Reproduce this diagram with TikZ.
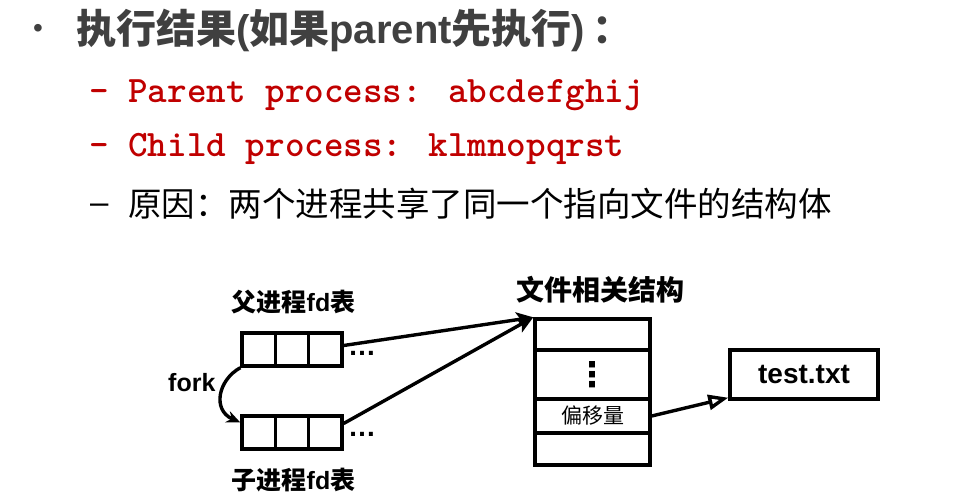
\documentclass[tikz,border=0pt]{standalone}
\usepackage{fontspec}
\setmainfont{Liberation Sans}
\newfontfamily\cjk{Noto Sans CJK SC}
\newfontfamily\djv{DejaVu Sans}
\usetikzlibrary{arrows.meta,calc}
\definecolor{titlegray}{HTML}{404040}
\definecolor{codered}{HTML}{C00000}
\newcommand\fs[1]{\fontsize{#1}{#1}\selectfont}
\begin{document}
\begin{tikzpicture}[x=1pt,y=-1pt,
  cell/.style={draw, line width=3.4pt, minimum width=33.3pt, minimum height=33pt, inner sep=0pt},
  row/.style={draw, line width=3.4pt, minimum width=115pt, inner sep=0pt},
  lbl/.style={inner sep=0pt, font=\fs{25}\bfseries},
  conn/.style={line width=3.4pt, -{Stealth[length=17pt,width=15pt,inset=4pt]}},
]
\useasboundingbox[fill=white] (0,0) rectangle (975,502);
% text block
\node[text=titlegray, font=\fs{28}] (bul) at (38,31) {•};
\node[anchor=west, inner sep=0pt, text=titlegray, font=\fs{40}\bfseries] (title) at (76,30)
  {{\cjk 执行结果}({\cjk 如果}parent{\cjk 先执行})\hspace{7pt}{\cjk ：}};
\node[anchor=west, inner sep=0pt, text=codered, font=\fs{37.3}\ttfamily\bfseries] (l2) at (89,95)
  {— Parent process: abcdefghij};
\node[anchor=west, inner sep=0pt, text=codered, font=\fs{37.3}\ttfamily\bfseries] (l3) at (89,149)
  {— Child process: klmnopqrst};
\node[anchor=base west, inner sep=0pt, font=\fs{33}] (d4) at (90,214) {–};
\node[anchor=west, inner sep=0pt, font=\fs{33.5}\cjk] (l4) at (128,204)
  {原因：两个进程共享了同一个指向文件的结构体};
% fd tables
\node[cell] (p1) at (258.7,349.5) {};
\node[cell] (p2) at (292,349.5) {};
\node[cell] (p3) at (325.3,349.5) {};
\node[cell] (c1) at (258.7,432.5) {};
\node[cell] (c2) at (292,432.5) {};
\node[cell] (c3) at (325.3,432.5) {};
\node[lbl] (pl) at (293.5,302) {{\cjk 父进程}fd{\cjk 表}};
\node[lbl] (cl) at (293.5,480) {{\cjk 子进程}fd{\cjk 表}};
\node[lbl, anchor=west] (fork) at (168,383) {fork};
\node[anchor=west, inner sep=0pt, font=\fs{28}\bfseries] (pd) at (348,353) {…};
\node[anchor=west, inner sep=0pt, font=\fs{28}\bfseries] (cd) at (348,434) {…};
% file structure
\node[row, minimum height=31pt] (r1) at (592.5,334.5) {};
\node[row, minimum height=49pt, font=\djv\bfseries\fs{34}] (r2) at (592.5,374.5) {⋮};
\node[row, minimum height=34pt, font=\cjk\fs{21}] (r3) at (592.5,416) {偏移量};
\node[row, minimum height=32pt] (r4) at (592.5,449) {};
\node[lbl, font=\cjk\bfseries\fs{28}] (fl) at (600,290) {文件相关结构};
\node[draw, line width=3.4pt, minimum width=148pt, minimum height=49pt, inner sep=0pt, font=\fs{28}\bfseries] (t) at (804,374.5) {test.txt};
% connectors
\draw[conn] ($(p3.east)+(0,-4)$) -- (r1.north west);
\draw[conn] ($(c3.east)+(0,-9)$) -- (r1.north west);
\draw[line width=3.4pt, -{Triangle[open,length=20pt,width=15pt]}] (r3.east) -- ($(t.south west)+(0,-3)$);
\draw[line width=3.4pt, -{Stealth[length=14pt,width=12pt]}] (p1.south west) .. controls (218,380) and (212,410) .. ($(c1.west)+(0,-10)$);
\end{tikzpicture}
\end{document}
